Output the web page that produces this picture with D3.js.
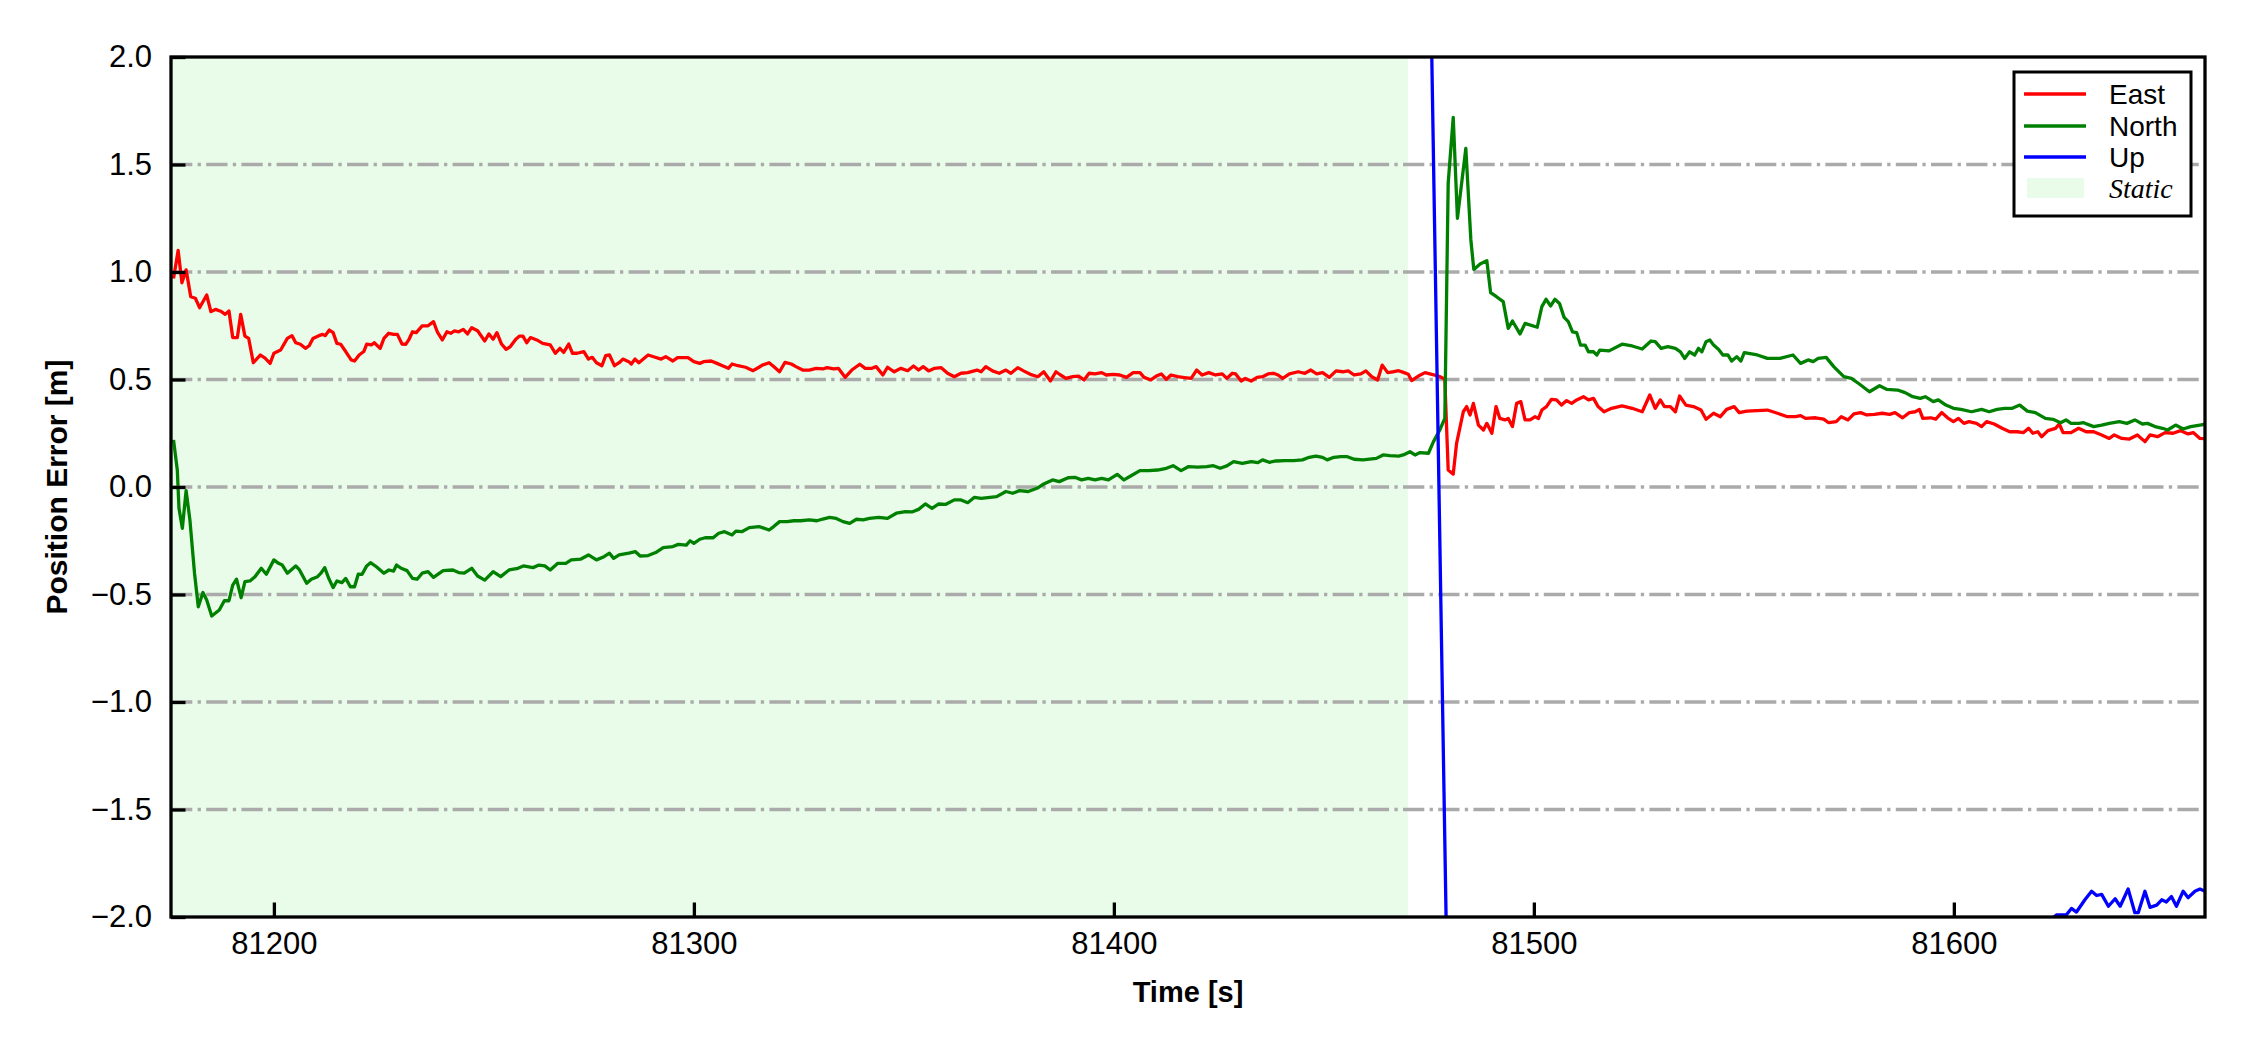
<!DOCTYPE html>
<html><head><meta charset="utf-8">
<script src="https://cdn.jsdelivr.net/npm/d3@7"></script>
<style>body{margin:0;background:#fff}</style>
</head><body>
<svg id="chart" width="2250" height="1050" xmlns="http://www.w3.org/2000/svg"></svg>
<script>
// ---------------- data ----------------
const xDomain = [81175.5, 81659.8];
const yDomain = [-2, 2];
const xTicks = [81200, 81300, 81400, 81500, 81600];
const yTicks = [-2, -1.5, -1, -0.5, 0, 0.5, 1, 1.5, 2];
const staticSpan = [81175.5, 81470];
const seriesNames = ["East", "North", "Up"];
const seriesColors = ["#ff0000", "#008000", "#0000ff"];
const xLabel = "Time [s]";
const yLabel = "Position Error [m]";

const east = [
[81176.1,.97],[81177.2,1.10],[81178.1,.95],[81179.1,1.01],[81180.2,.885],[81181.3,.878],[81182.3,.834],[81184.0,.893],[81185.0,.816],[81186.1,.826],
[81187.5,.816],[81188.4,.803],[81189.3,.819],[81190.2,.695],[81191.3,.695],[81192.1,.803],[81193.1,.702],[81194.0,.691],[81195.1,.578],[81196.8,.614],
[81197.9,.599],[81199.1,.575],[81200.0,.622],[81201.6,.637],[81203.2,.691],[81204.3,.704],[81205.2,.671],[81206.3,.664],[81207.5,.645],[81208.4,.657],
[81209.3,.691],[81210.7,.704],[81211.6,.710],[81212.2,.704],[81213.2,.730],[81214.1,.718],[81215.0,.668],[81215.9,.664],[81217.1,.630],[81218.4,.591],
[81219.2,.586],[81220.3,.614],[81221.4,.630],[81222.1,.664],[81223.2,.661],[81223.9,.671],[81225.3,.645],[81226.2,.691],[81227.3,.715],[81228.5,.710],
[81229.4,.710],[81230.5,.665],[81231.4,.664],[81232.1,.684],[81233.0,.722],[81233.9,.718],[81235.3,.749],[81236.7,.750],[81238.0,.769],[81238.9,.722],
[81240.1,.684],[81241.2,.722],[81242.1,.715],[81243.0,.726],[81244.0,.722],[81245.1,.733],[81246.1,.712],[81247.1,.741],[81248.5,.727],[81250.2,.679],
[81251.2,.712],[81252.2,.687],[81253.1,.718],[81254.2,.665],[81255.3,.640],[81256.3,.653],[81257.6,.687],[81258.5,.702],[81259.3,.702],[81260.2,.671],
[81261.1,.695],[81262.6,.684],[81264.0,.668],[81265.8,.661],[81267.0,.622],[81268.1,.645],[81269.0,.626],[81270.2,.665],[81271.1,.622],[81272.2,.622],
[81273.8,.630],[81274.9,.595],[81275.8,.603],[81276.8,.578],[81278.1,.564],[81279.0,.611],[81279.9,.614],[81281.1,.564],[81282.2,.578],[81283.1,.595],
[81284.5,.583],[81285.1,.572],[81286.0,.595],[81286.9,.578],[81289.1,.614],[81290.4,.606],[81292.2,.595],[81293.3,.606],[81295.0,.586],[81296.1,.602],
[81297.5,.602],[81298.6,.602],[81300.0,.583],[81301.4,.575],[81302.3,.583],[81304.1,.586],[81305.5,.575],[81306.8,.564],[81308.2,.552],[81309.1,.572],
[81310.5,.564],[81312.3,.557],[81314.1,.541],[81315.5,.557],
[81316.3,.567],[81317.9,.578],[81319.0,.560],[81320.4,.536],[81321.7,.580],[81323.2,.572],[81324.3,.560],[81325.9,.544],[81327.5,.544],[81329.1,.552],
[81330.7,.549],[81331.7,.555],[81333.3,.549],[81334.4,.552],[81336.0,.510],[81337.6,.544],[81339.5,.571],[81340.8,.552],[81342.4,.552],[81343.4,.560],
[81345.0,.521],[81346.1,.557],[81347.7,.536],[81349.3,.552],[81350.9,.541],[81352.3,.563],[81353.5,.544],[81354.6,.560],[81355.9,.540],[81357.3,.552],
[81358.9,.555],[81360.4,.529],[81362.0,.513],[81363.6,.529],[81365.2,.532],[81367.4,.544],[81368.4,.536],[81369.5,.560],[81371.1,.540],[81372.7,.529],
[81374.3,.544],[81375.5,.529],[81377.1,.555],[81378.5,.540],[81380.1,.524],[81381.9,.513],[81383.3,.536],[81384.9,.493],[81386.2,.536],[81387.3,.521],
[81388.6,.505],[81390.2,.513],[81391.6,.516],[81392.9,.498],[81394.1,.529],[81395.5,.526],[81397.1,.532],[81398.2,.521],[81399.8,.524],[81401.4,.521],
[81403.0,.510],[81404.6,.532],[81406.2,.532],[81407.2,.510],[81408.8,.498],[81410.1,.516],[81411.3,.526],[81412.5,.501],[81413.6,.521],[81415.2,.513],
[81416.8,.509],[81418.4,.505],[81419.7,.544],[81421.0,.521],[81422.6,.532],[81424.2,.521],[81425.8,.526],[81426.9,.505],[81428.2,.529],[81429.0,.526],
[81430.3,.493],[81431.3,.505],[81432.7,.493],[81434.1,.510],[81435.4,.513],[81436.7,.526],[81438.0,.529],[81439.1,.521],[81440.2,.505],[81441.8,.526],
[81443.9,.536],[81445.5,.529],[81446.9,.544],[81448.3,.526],[81449.7,.532],[81451.3,.510],[81452.9,.540],[81454.5,.536],[81455.8,.540],[81457.2,.521],
[81458.8,.526],[81460.0,.540],[81461.4,.513],[81462.8,.498],[81463.9,.567],[81465.2,.532],[81466.4,.536],[81467.8,.541],
[81469.1,.532],[81470.1,.524],[81470.9,.495],[81472.5,.516],[81474.1,.532],[81475.7,.524],[81476.9,.518],[81478.0,.510],[81478.8,.501],[81479.6,.079],
[81480.8,.060],[81481.6,.203],[81483.2,.350],[81484.0,.374],[81484.8,.335],[81485.6,.389],[81486.8,.288],[81488.0,.265],[81488.8,.296],[81490.0,.250],
[81491.0,.374],[81491.9,.319],[81493.1,.312],[81493.9,.319],[81494.9,.281],[81495.9,.389],[81496.9,.397],[81497.9,.312],[81499.1,.312],[81500.3,.327],
[81501.1,.319],[81501.9,.358],[81503.0,.374],[81504.2,.408],[81505.4,.405],[81506.6,.381],[81507.8,.402],[81509.0,.389],[81510.2,.405],[81511.8,.420],
[81513.0,.405],[81514.2,.412],[81515.3,.374],
[81516.7,.350],[81518.5,.366],[81521.0,.377],[81523.4,.366],[81525.8,.350],[81527.6,.428],[81528.9,.366],[81530.1,.405],[81531.1,.374],[81532.5,.374],
[81533.7,.350],[81534.7,.423],[81536.2,.381],[81538.0,.374],[81539.8,.358],[81541.0,.315],[81542.8,.343],[81544.4,.327],[81545.9,.361],[81547.7,.374],
[81548.9,.346],[81550.7,.353],[81555.6,.358],[81558.0,.343],[81560.4,.327],[81562.3,.327],[81563.5,.332],[81564.7,.319],[81567.1,.322],[81569.0,.316],
[81570.2,.299],[81572.0,.304],[81573.2,.327],[81574.8,.312],[81576.2,.340],[81577.8,.346],[81579.3,.335],[81581.1,.338],[81582.9,.343],[81584.7,.338],
[81586.0,.346],[81587.8,.322],[81589.4,.346],[81590.8,.350],[81591.8,.361],[81592.6,.319],[81594.5,.322],[81595.7,.316],[81597.1,.346],[81598.7,.319],
[81599.9,.304],[81601.1,.319],[81602.4,.296],[81603.6,.304],[81605.4,.296],[81606.6,.281],[81607.8,.304],[81609.6,.293],[81611.5,.273],[81613.3,.257],
[81615.1,.257],[81616.6,.253],[81617.8,.273],[81618.8,.250],[81620.0,.257],[81620.9,.234],[81622.4,.262],[81624.2,.273],[81625.1,.293],[81626.0,.253],
[81627.9,.253],[81629.7,.273],[81631.5,.257],[81633.3,.257],[81635.2,.242],[81637.0,.226],[81638.2,.242],[81640.0,.226],[81641.8,.223],[81643.7,.242],
[81645.5,.211],[81646.7,.242],[81648.5,.234],[81650.3,.253],[81652.2,.250],[81654.0,.262],[81655.8,.247],[81657.0,.253],[81658.6,.226],[81659.8,.225]
];

const north = [
[81176.1,.219],[81177.0,.079],[81177.4,-.099],[81178.2,-.192],[81179.1,-.017],[81180.0,-.153],[81181.1,-.401],[81182.0,-.557],[81183.1,-.491],[81184.0,-.526],
[81185.2,-.600],[81187.0,-.572],[81188.2,-.529],[81189.3,-.529],[81190.2,-.456],[81191.1,-.429],[81192.2,-.515],[81193.1,-.440],[81194.3,-.437],[81195.5,-.417],
[81197.0,-.378],[81198.2,-.406],[81200.0,-.339],[81201.1,-.355],[81202.0,-.363],[81203.2,-.401],[81205.2,-.367],[81206.1,-.386],[81207.8,-.448],[81208.9,-.429],
[81210.4,-.417],[81211.2,-.401],[81212.1,-.375],[81213.0,-.422],[81214.1,-.468],[81215.0,-.437],[81216.2,-.445],[81217.1,-.425],[81218.2,-.464],[81219.2,-.464],
[81220.1,-.405],[81221.0,-.406],[81222.1,-.367],[81223.0,-.352],[81224.4,-.371],[81226.2,-.401],[81227.4,-.386],[81228.5,-.391],[81229.2,-.363],[81230.3,-.378],
[81231.7,-.389],[81233.0,-.425],[81234.1,-.429],[81235.3,-.401],[81236.7,-.394],[81238.0,-.420],[81240.3,-.389],[81242.6,-.386],[81244.0,-.398],[81245.3,-.401],
[81247.1,-.378],[81248.5,-.414],[81250.2,-.433],[81252.2,-.394],[81254.0,-.417],[81256.0,-.386],[81258.1,-.378],[81259.4,-.367],[81261.7,-.375],[81263.1,-.363],
[81264.5,-.367],[81265.8,-.386],[81267.6,-.355],[81269.5,-.355],[81270.8,-.339],[81273.1,-.335],[81274.9,-.316],[81276.8,-.339],[81278.6,-.324],[81279.9,-.308],
[81280.9,-.332],[81282.2,-.316],[81284.5,-.308],[81286.1,-.301],[81287.2,-.321],[81289.1,-.319],[81290.9,-.305],[81292.7,-.282],[81295.0,-.277],[81296.3,-.267],
[81298.2,-.270],[81299.1,-.250],[81300.0,-.262],[81301.4,-.243],[81302.7,-.236],[81304.6,-.236],[81305.9,-.215],[81307.3,-.208],[81309.1,-.223],[81310.0,-.205],
[81311.4,-.208],[81313.2,-.189],[81315.5,-.184],
[81317.9,-.200],[81319.0,-.184],[81320.4,-.161],[81322.2,-.161],[81323.8,-.157],[81325.4,-.157],[81327.5,-.153],[81329.3,-.157],[81330.7,-.149],[81332.3,-.141],
[81333.9,-.146],[81335.5,-.161],[81337.1,-.169],[81338.7,-.150],[81340.3,-.153],[81341.8,-.146],[81344.0,-.141],[81346.1,-.146],[81348.2,-.122],[81350.4,-.115],
[81351.9,-.116],[81353.5,-.104],[81355.1,-.079],[81356.7,-.099],[81358.3,-.079],[81359.9,-.081],[81362.0,-.060],[81363.6,-.060],[81365.2,-.073],[81366.8,-.048],
[81368.4,-.053],[81370.5,-.048],[81372.1,-.045],[81374.3,-.021],[81375.9,-.029],[81377.5,-.017],[81379.6,-.021],[81381.7,-.006],[81383.3,.014],[81385.4,.033],
[81387.0,.025],[81389.1,.043],[81390.7,.045],[81392.3,.033],[81393.9,.040],[81395.5,.033],[81397.1,.040],[81398.7,.033],[81400.8,.059],[81402.4,.033],
[81404.0,.051],[81406.2,.076],[81408.3,.076],[81410.4,.079],[81412.5,.087],[81414.1,.099],[81416.0,.076],[81417.8,.095],[81420.0,.092],[81422.1,.095],
[81423.7,.099],[81425.3,.087],[81426.9,.098],[81428.5,.118],[81430.6,.110],[81432.7,.118],[81434.3,.113],[81435.4,.126],[81437.0,.115],[81438.6,.121],
[81440.7,.123],[81442.8,.123],[81444.9,.126],[81446.5,.138],[81448.1,.144],[81449.7,.138],[81450.8,.126],[81452.4,.138],[81454.0,.141],[81455.6,.141],
[81457.2,.129],[81459.3,.126],[81460.9,.130],[81462.5,.133],[81464.1,.149],[81465.7,.146],[81467.8,.144],
[81468.9,.149],[81470.5,.164],[81471.7,.149],[81472.9,.160],[81474.9,.157],[81476.1,.211],[81477.6,.265],[81478.8,.319],[81479.6,1.412],[81480.8,1.719],
[81481.8,1.250],[81483.8,1.575],[81485.0,1.149],[81485.7,1.012],[81487.2,1.037],[81488.8,1.053],[81489.7,.904],[81491.1,.885],[81492.7,.862],[81493.9,.738],
[81494.9,.772],[81496.7,.712],[81497.9,.761],[81500.8,.743],[81501.9,.839],[81502.9,.873],[81504.0,.842],[81505.0,.873],[81506.1,.854],[81507.2,.789],
[81508.2,.769],[81509.2,.722],[81510.2,.718],[81511.1,.660],[81512.2,.660],[81513.0,.629],[81514.2,.629],[81515.0,.614],[81515.7,.637],
[81517.9,.633],[81521.0,.664],[81523.4,.656],[81525.8,.642],[81527.9,.679],[81528.9,.676],[81530.3,.645],[81531.9,.653],[81533.7,.645],[81534.9,.629],
[81535.9,.598],[81537.1,.629],[81538.3,.614],[81539.2,.645],[81540.0,.629],[81541.0,.676],[81541.9,.684],[81542.8,.660],[81544.0,.640],[81545.0,.614],
[81546.2,.614],[81547.1,.586],[81548.3,.606],[81549.3,.586],[81550.1,.625],[81553.2,.614],[81555.6,.598],[81558.6,.598],[81561.7,.614],[81563.5,.575],
[81565.3,.591],[81566.5,.583],[81567.7,.598],[81569.6,.603],[81571.4,.560],[81573.8,.513],[81575.6,.505],[81577.5,.479],[81579.9,.443],[81582.3,.471],
[81584.1,.454],[81586.6,.451],[81588.4,.439],[81590.2,.420],[81592.0,.412],[81593.2,.420],[81595.1,.397],[81596.3,.405],[81598.1,.381],[81599.9,.366],
[81601.7,.361],[81604.2,.350],[81606.6,.361],[81608.4,.350],[81610.3,.361],[81612.1,.366],[81613.9,.366],[81615.7,.381],[81617.5,.353],[81619.4,.346],
[81621.8,.319],[81623.6,.315],[81625.4,.299],[81626.7,.312],[81627.9,.296],[81629.7,.296],[81630.9,.299],[81633.3,.281],[81635.2,.288],[81637.0,.296],
[81639.4,.304],[81641.2,.296],[81643.1,.312],[81644.9,.293],[81646.1,.296],[81647.9,.281],[81649.7,.273],[81650.9,.265],[81652.8,.288],[81654.6,.270],
[81656.4,.281],[81658.6,.288],[81659.8,.292]
];

const up = [
[81176.0,2.90],[81300.0,2.86],[81420.0,2.84],[81475.0,2.82],[81480.0,-3.06],[81550.0,-2.55],[81620.0,-2.06],
[81624.5,-1.99],[81626.8,-1.99],[81628.0,-1.96],[81629.2,-1.977],[81631.2,-1.92],[81632.8,-1.88],[81634.0,-1.90],[81635.2,-1.895],
[81636.8,-1.95],[81638.4,-1.915],[81639.6,-1.95],[81641.5,-1.87],[81643.1,-1.98],[81643.9,-1.98],[81645.5,-1.88],[81646.7,-1.955],
[81648.3,-1.945],[81649.5,-1.92],[81650.6,-1.93],[81651.8,-1.905],[81653.0,-1.95],[81654.6,-1.88],[81655.8,-1.91],[81657.4,-1.88],
[81658.6,-1.87],[81659.8,-1.88]
];
const seriesData = [east, north, up];

// ---------------- layout ----------------
const W = 2250, H = 1050;
const L = 171, R = 2205, T = 57, B = 917;
const lw = 3.3;
const FONT = "Arial, 'Liberation Sans', Helvetica, sans-serif";
const staticColor = "#e9fce9";

const svg = d3.select("#chart");
svg.append("rect").attr("width", W).attr("height", H).attr("fill", "#fff");

const x = d3.scaleLinear().domain(xDomain).range([L, R]);
const y = d3.scaleLinear().domain(yDomain).range([B, T]);

svg.append("defs").append("clipPath").attr("id", "plotclip")
  .append("rect").attr("x", L).attr("y", T).attr("width", R - L).attr("height", B - T);

// static span
svg.append("rect")
  .attr("x", x(staticSpan[0])).attr("y", T)
  .attr("width", x(staticSpan[1]) - x(staticSpan[0])).attr("height", B - T)
  .attr("fill", staticColor);

// grid
svg.append("g").selectAll("line").data(yTicks.filter(v => v > yDomain[0] && v < yDomain[1]))
  .join("line")
  .attr("x1", L).attr("x2", R)
  .attr("y1", d => y(d)).attr("y2", d => y(d))
  .attr("stroke", "#aaaaaa").attr("stroke-width", lw)
  .attr("stroke-dasharray", "21.3,5.3,3.3,5.3");

// lines
const line = d3.line().x(d => x(d[0])).y(d => y(d[1]));
const gLines = svg.append("g").attr("clip-path", "url(#plotclip)");
seriesData.forEach((data, i) => {
  gLines.append("path").datum(data)
    .attr("d", line)
    .attr("fill", "none")
    .attr("stroke", seriesColors[i])
    .attr("stroke-width", lw)
    .attr("stroke-linejoin", "round");
});

// axes
const xAxis = d3.axisBottom(x).tickValues(xTicks).tickFormat(d3.format("d"))
  .tickSizeInner(-14.5).tickSizeOuter(0).tickPadding(15);
const yAxis = d3.axisLeft(y).tickValues(yTicks).tickFormat(d3.format(".1f"))
  .tickSizeInner(-14.5).tickSizeOuter(0).tickPadding(19);

const gx = svg.append("g").attr("transform", `translate(0,${B})`).call(xAxis);
const gy = svg.append("g").attr("transform", `translate(${L},0)`).call(yAxis);
[gx, gy].forEach(g => {
  g.select(".domain").remove();
  g.selectAll(".tick line").attr("stroke", "#000").attr("stroke-width", lw);
  g.selectAll(".tick text").attr("fill", "#000")
    .style("font-family", FONT).style("font-size", "31px");
});

// spines
svg.append("rect").attr("x", L).attr("y", T).attr("width", R - L).attr("height", B - T)
  .attr("fill", "none").attr("stroke", "#000").attr("stroke-width", lw);

// axis labels
svg.append("text").text(xLabel)
  .attr("x", (L + R) / 2).attr("y", 1002)
  .attr("text-anchor", "middle")
  .style("font-family", FONT).style("font-size", "29px").style("font-weight", "bold");
svg.append("text").text(yLabel)
  .attr("transform", `translate(67,${(T + B) / 2}) rotate(-90)`)
  .attr("text-anchor", "middle")
  .style("font-family", FONT).style("font-size", "30px").style("font-weight", "bold");

// legend
const lg = svg.append("g");
lg.append("rect").attr("x", 2014).attr("y", 72).attr("width", 177).attr("height", 144)
  .attr("fill", "#fff").attr("stroke", "#000").attr("stroke-width", 3);
const rowY = [94, 126, 157, 188];
seriesNames.forEach((name, i) => {
  lg.append("line").attr("x1", 2024).attr("x2", 2086).attr("y1", rowY[i]).attr("y2", rowY[i])
    .attr("stroke", seriesColors[i]).attr("stroke-width", lw);
  lg.append("text").text(name).attr("x", 2109).attr("y", rowY[i])
    .attr("dominant-baseline", "central")
    .style("font-family", FONT).style("font-size", "28px");
});
lg.append("rect").attr("x", 2027).attr("y", rowY[3] - 10).attr("width", 57).attr("height", 20)
  .attr("fill", staticColor);
lg.append("text").text("Static").attr("x", 2109).attr("y", rowY[3])
  .attr("dominant-baseline", "central")
  .style("font-family", "'Times New Roman', 'Liberation Serif', serif")
  .style("font-style", "italic").style("font-size", "28px");
</script>
</body></html>
